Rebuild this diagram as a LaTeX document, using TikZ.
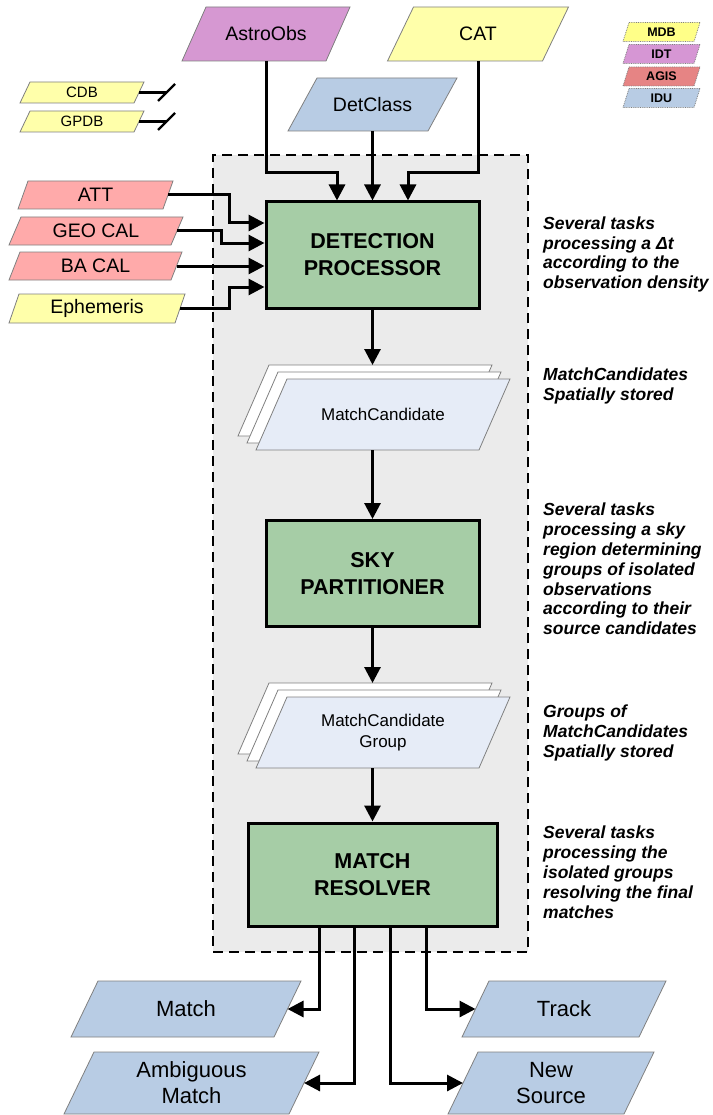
\documentclass[tikz,border=0pt]{standalone}
\usepackage{fontspec}
\setmainfont{Liberation Sans}
\usetikzlibrary{arrows.meta,calc}

\definecolor{inyellow}{HTML}{FFFFAA}
\definecolor{inpurple}{HTML}{D698D2}
\definecolor{inpink}{HTML}{FFAAAA}
\definecolor{inblue}{HTML}{B8CCE4}
\definecolor{procgreen}{HTML}{A6CDA6}
\definecolor{framegray}{HTML}{EBEBEB}
\definecolor{candblue}{HTML}{E6ECF7}
\definecolor{edgegray}{HTML}{808080}
\definecolor{legyellow}{HTML}{FFFF88}
\definecolor{legpurple}{HTML}{D696D4}
\definecolor{legred}{HTML}{E68484}

\tikzset{
  arr/.style={line width=3pt, -{Triangle[length=16pt,width=16pt]}},
  stub/.style={line width=2.2pt},
  proc/.style={draw=black, line width=3pt, fill=procgreen, minimum width=213pt,
    minimum height=106pt, inner sep=0pt, align=center,
    font=\fontsize{21.5}{27}\selectfont\bfseries},
  groupframe/.style={draw=black, fill=framegray, line width=2.8pt,
    dash pattern=on 10pt off 6pt},
  pshape/.style={draw=edgegray, line width=0.8pt},
  legshape/.style={draw=edgegray, line width=0.8pt, densely dotted},
  backshape/.style={pshape, fill=white},
  frontshape/.style={pshape, fill=candblue},
  intext/.style={inner sep=0pt, align=center, font=\fontsize{19.5}{24}\selectfont},
  dbtext/.style={inner sep=0pt, align=center, font=\fontsize{15}{18}\selectfont},
  legtext/.style={inner sep=0pt, align=center, font=\fontsize{12.5}{15}\selectfont\bfseries},
  candtext/.style={inner sep=0pt, align=center, font=\fontsize{17}{21}\selectfont},
  outtext/.style={inner sep=0pt, align=center, font=\fontsize{22}{26}\selectfont},
  note/.style={inner sep=0pt, align=left, anchor=north west,
    font=\fontsize{17.5}{19.8}\selectfont\bfseries\itshape},
}

% parallelogram outline: centre x, centre y, width, height, slant, style
\newcommand\paraoutline[6]{%
  \path[#6] ({#1-#3/2+#5/2},{#2-#4/2}) -- ({#1+#3/2+#5/2},{#2-#4/2})
    -- ({#1+#3/2-#5/2},{#2+#4/2}) -- ({#1-#3/2-#5/2},{#2+#4/2}) -- cycle;}

% data parallelogram with a named label and edge coordinates
\newcommand\datapara[9]{%
  \paraoutline{#2}{#3}{#4}{#5}{#6}{#7}
  \node[#8] (#1) at (#2,#3) {#9};
  \coordinate (#1-e) at ({#2+#4/2},#3);
  \coordinate (#1-w) at ({#2-#4/2},#3);
  \coordinate (#1-n) at (#2,{#3-#5/2});
  \coordinate (#1-s) at (#2,{#3+#5/2});}

% stacked data parallelograms (several stored items)
\newcommand\datastack[4]{%
  \paraoutline{#2-18}{#3-14}{223}{71}{31}{backshape}
  \paraoutline{#2-9}{#3-7}{223}{71}{31}{backshape}
  \datapara{#1}{#2}{#3}{223}{71}{31}{frontshape}{candtext}{#4}
  \coordinate (#1-top) at (#2,{#3-14-35.5});}

\begin{document}
\begin{tikzpicture}[x=1pt,y=-1pt]
\useasboundingbox (0,0) rectangle (712,1115);
\fill[white] (0,0) rectangle (712,1115);

% processing group frame
\node[groupframe, minimum width=315pt, minimum height=797pt, inner sep=0pt] (grp) at (370.5,553.5) {};

% legend
\datapara{lmdb}{661.5}{32}{71}{19}{6}{legshape, fill=legyellow}{legtext}{MDB}
\datapara{lidt}{661.5}{54}{71}{19}{6}{legshape, fill=legpurple}{legtext}{IDT}
\datapara{lagis}{661.5}{76.5}{71}{19}{6}{legshape, fill=legred}{legtext}{AGIS}
\datapara{lidu}{661.5}{98}{71}{19}{6}{legshape, fill=inblue}{legtext}{IDU}

% top inputs
\datapara{astro}{266}{34}{144}{54}{24}{pshape, fill=inpurple}{intext}{AstroObs}
\datapara{cat}{478}{34}{155}{54}{26}{pshape, fill=inyellow}{intext}{CAT}
\datapara{detc}{372.5}{104.5}{140}{53}{29}{pshape, fill=inblue}{intext}{DetClass}

% unconnected databases
\datapara{cdb}{82}{92.5}{114}{21}{10}{pshape, fill=inyellow}{dbtext}{CDB}
\datapara{gpdb}{82}{121.5}{114}{21}{10}{pshape, fill=inyellow}{dbtext}{GPDB}
\draw[stub] (cdb-e) -- ++(28,0);
\draw[stub] ([xshift=19pt,yshift=-8.5pt]cdb-e) -- ++(17,-17);
\draw[stub] (gpdb-e) -- ++(28,0);
\draw[stub] ([xshift=19pt,yshift=-8.5pt]gpdb-e) -- ++(17,-17);

% side inputs
\datapara{att}{95.5}{195}{145}{28}{10}{pshape, fill=inpink}{intext}{ATT}
\datapara{geo}{96}{231}{162}{28}{12}{pshape, fill=inpink}{intext}{GEO CAL}
\datapara{bacal}{95.5}{266}{162}{28}{11}{pshape, fill=inpink}{intext}{BA CAL}
\datapara{eph}{97}{308.5}{166}{29}{10}{pshape, fill=inyellow}{intext}{Ephemeris}

% processors
\node[proc] (det) at (372.5,255) {DETECTION\\PROCESSOR};
\node[proc] (sky) at (372.5,573.5) {SKY\\PARTITIONER};
\node[proc, minimum width=249pt, minimum height=103pt] (res) at (372.5,874.5) {MATCH\\RESOLVER};

% intermediate stores
\datastack{mc}{383}{414.5}{MatchCandidate}
\datastack{mcg}{383}{732.5}{MatchCandidate\\Group}

% outputs
\datapara{match}{186}{1009}{203}{56}{27}{pshape, fill=inblue}{outtext}{Match}
\datapara{amb}{191.5}{1083}{225}{62}{30}{pshape, fill=inblue}{outtext}{Ambiguous\\Match}
\datapara{track}{564}{1009}{177}{56}{27}{pshape, fill=inblue}{outtext}{Track}
\datapara{news}{551}{1083}{176}{62}{30}{pshape, fill=inblue}{outtext}{New\\Source}

% connectors into the detection processor
\coordinate (bus) at (0,173);
\draw[arr] (astro-s) -- (astro-s |- bus) -| ([xshift=-35.5pt]det.north);
\draw[arr] (detc-s) -- (det.north);
\draw[arr] (cat-s) -- (cat-s |- bus) -| ([xshift=35.5pt]det.north);
\draw[arr] (att-e) -| ([xshift=-35pt,yshift=32pt]det.west) -- ([yshift=32pt]det.west);
\draw[arr] (geo-e) -| ([xshift=-43pt,yshift=12pt]det.west) -- ([yshift=12pt]det.west);
\draw[arr] (bacal-e) -- (bacal-e -| det.west);
\draw[arr] (eph-e) -| ([xshift=-35pt,yshift=-32pt]det.west) -- ([yshift=-32pt]det.west);

% main chain
\draw[arr] (det.south) -- (det.south |- mc-top);
\draw[arr] (sky.north |- mc-s) -- (sky.north);
\draw[arr] (sky.south) -- (sky.south |- mcg-top);
\draw[arr] (res.north |- mcg-s) -- (res.north);

% outputs of the resolver
\draw[arr] ([xshift=-53.5pt]res.south) |- (match-e);
\draw[arr] ([xshift=-18.5pt]res.south) |- (amb-e);
\draw[arr] ([xshift=17.5pt]res.south) |- (news-w);
\draw[arr] ([xshift=53.5pt]res.south) |- (track-w);

% annotations
\node[note] (n1) at (543,216.5) {Several tasks\\processing a Δt\\according to the\\observation density};
\node[note] (n2) at (543,368) {MatchCandidates\\Spatially stored};
\node[note] (n3) at (543,503) {Several tasks\\processing a sky\\region determining\\groups of isolated\\observations\\according to their\\source candidates};
\node[note] (n4) at (543,705) {Groups of\\MatchCandidates\\Spatially stored};
\node[note] (n5) at (543,826) {Several tasks\\processing the\\isolated groups\\resolving the final\\matches};
\end{tikzpicture}
\end{document}
